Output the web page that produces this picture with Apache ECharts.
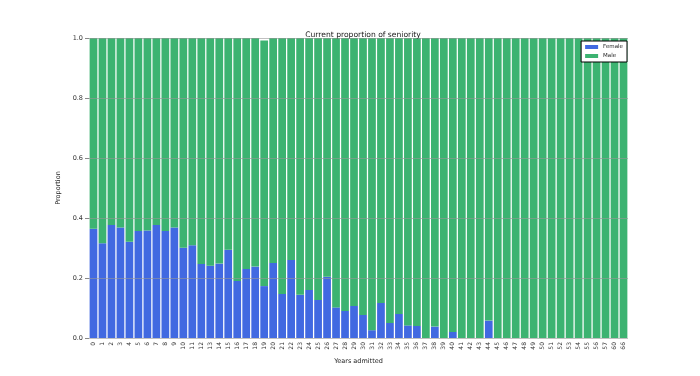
<!DOCTYPE html>
<html><head><meta charset="utf-8">
<script src="https://cdn.jsdelivr.net/npm/echarts@6/dist/echarts.min.js"></script>
<style>html,body{margin:0;padding:0;background:#fff}#c{width:700px;height:376px}</style>
</head><body><div id="c"></div>
<script>
const years = ['0','1','2','3','4','5','6','7','8','9',
  '10','11','12','13','14','15','16','17','18','19',
  '20','21','22','23','24','25','26','27','28','29',
  '30','31','32','33','34','35','36','37','38','39',
  '40','41','42','43','44','45','46','47','48','49',
  '50','51','52','53','54','55','56','57','60','66'];
const female = [0.364,0.316,0.377,0.368,0.321,0.357,0.358,0.377,0.357,0.368,
  0.301,0.309,0.247,0.241,0.248,0.294,0.190,0.230,0.238,0.173,
  0.250,0.147,0.260,0.144,0.160,0.127,0.204,0.102,0.090,0.107,
  0.077,0.026,0.117,0.050,0.080,0.042,0.040,0,0.038,0,
  0.020,0,0,0,0.058,0,0,0,0,0,
  0,0,0,0,0,0,0,0,0,0];
const male = [0.636,0.684,0.623,0.632,0.679,0.643,0.642,0.623,0.643,0.632,
  0.699,0.691,0.753,0.759,0.752,0.706,0.810,0.770,0.762,0.819,
  0.750,0.853,0.740,0.856,0.840,0.873,0.796,0.898,0.910,0.893,
  0.923,0.974,0.883,0.950,0.920,0.958,0.960,1,0.962,1,
  0.980,1,1,1,0.942,1,1,1,1,1,
  1,1,1,1,1,1,1,1,1,1];
const yTicks = ['0.0','0.2','0.4','0.6','0.8','1.0'];

const chart = echarts.init(document.getElementById('c'), null, {renderer: 'canvas'});
const font = 'DejaVu Sans';
chart.setOption({
  animation: false,
  backgroundColor: '#ffffff',
  title: {text: 'Current proportion of seniority', left: 358, top: 26, textAlign: 'center',
    textStyle: {fontFamily: font, fontSize: 7.6, fontWeight: 'normal', color: '#222'}},
  legend: {
    right: 73, top: 41, orient: 'vertical', itemWidth: 13, itemHeight: 4, itemGap: 3,
    backgroundColor: '#fff', borderColor: '#000', borderWidth: 1, padding: [3, 4, 3, 4],
    textStyle: {fontFamily: font, fontSize: 5.5, color: '#222'},
    icon: 'rect', data: ['Female', 'Male']
  },
  grid: {left: 89, right: 72, top: 38, bottom: 38},
  xAxis: {
    type: 'category', data: years, name: 'Years admitted', nameLocation: 'middle', nameGap: 18,
    nameTextStyle: {fontFamily: font, fontSize: 6.5, color: '#222'},
    axisLine: {show: false}, axisTick: {show: false},
    axisLabel: {rotate: 90, interval: 0, fontFamily: font, fontSize: 6, color: '#333', margin: 4},
    splitLine: {show: false}
  },
  yAxis: {
    type: 'value', min: 0, max: 1, interval: 0.2, z: 5,
    name: 'Proportion', nameLocation: 'middle', nameGap: 20, nameRotate: 90,
    nameTextStyle: {fontFamily: font, fontSize: 6.5, color: '#222'},
    axisLine: {show: false},
    axisTick: {show: true, length: 4, lineStyle: {color: '#888'}},
    axisLabel: {fontFamily: font, fontSize: 6.5, color: '#333', margin: 6,
      formatter: v => yTicks[Math.round(v / 0.2)]},
    splitLine: {show: true, lineStyle: {color: 'rgba(150,150,150,0.6)', width: 1}}
  },
  series: [
    {name: 'Female', type: 'bar', stack: 's', data: female, barCategoryGap: '14%',
      itemStyle: {color: '#4169e1'}},
    {name: 'Male', type: 'bar', stack: 's', data: male, barCategoryGap: '14%',
      itemStyle: {color: '#3cb371'}}
  ]
});
</script></body></html>
